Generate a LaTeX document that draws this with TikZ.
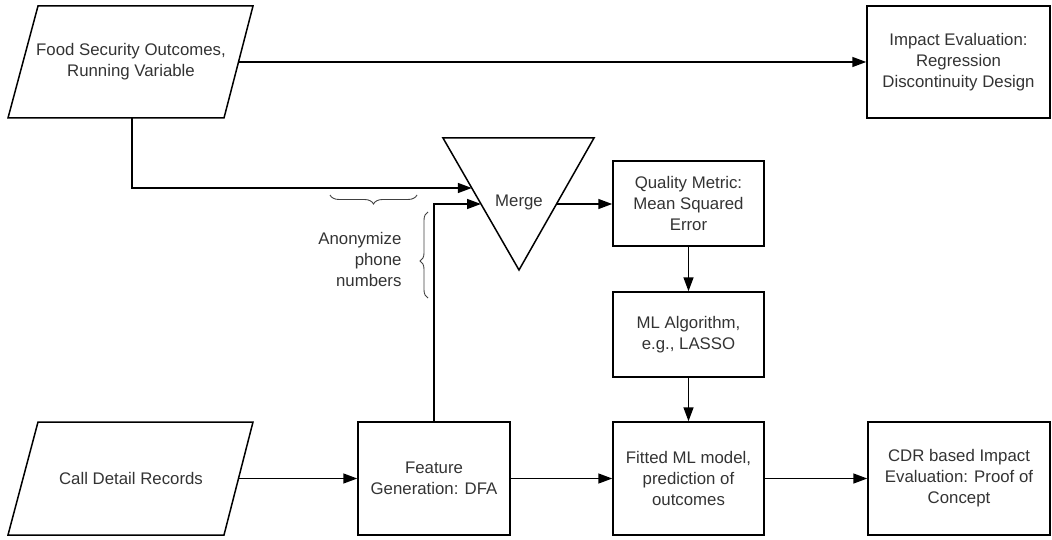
\documentclass[tikz,border=0pt]{standalone}
\usepackage{fontspec}
\setmainfont{Liberation Sans}
\usetikzlibrary{arrows.meta,decorations.pathreplacing}
\newcommand\dfont{\fontsize{16.8}{21}\selectfont}
\begin{document}
\begin{tikzpicture}[x=1pt,y=-1pt,
  line/.style={line width=1.5pt, draw=black},
  arr/.style={line, -{Triangle[length=14pt,width=10pt]}},
  box/.style={draw=black, line width=1.5pt, align=center, font=\dfont, text=black!80, inner sep=0pt},
  lbl/.style={align=center, font=\dfont, text=black!80},
  bracestyle/.style={draw=black!75, line width=0.9pt, decorate}
]
\useasboundingbox (0,0) rectangle (1052,540);

% parallelogram: food security outcomes
\draw[line] (38,6) -- (253,6) -- (224,118) -- (8,118) -- cycle;
\node[lbl] (fso) at (131,62) {Food Security Outcomes,\\Running Variable};
\coordinate (fsoR) at (238.5,62);
\coordinate (fsoB) at (132,118);

% parallelogram: call detail records
\draw[line] (38,422) -- (253,422) -- (224,535) -- (8,535) -- cycle;
\node[lbl] (calls) at (131,478.5) {Call Detail Records};
\coordinate (callsR) at (238.5,478.5);

% merge triangle
\draw[line] (443,138) -- (594,138) -- (519,270) -- cycle;
\node[lbl] (merge) at (519,202) {Merge};
\coordinate (mIn1) at (471.8,188);
\coordinate (mIn2) at (481,204);
\coordinate (mOut) at (556.5,204);

% boxes
\node[box, minimum width=183pt, minimum height=112pt] (impact) at (958.5,62)
  {Impact Evaluation:\\Regression\\Discontinuity Design};
\node[box, minimum width=151pt, minimum height=85pt] (quality) at (688.5,203.5)
  {Quality Metric:\\Mean Squared\\Error};
\node[box, minimum width=151pt, minimum height=85pt] (mlalg) at (688.5,334.5)
  {ML Algorithm,\\e.g., LASSO};
\node[box, minimum width=152pt, minimum height=113pt] (feature) at (434,478.5)
  {Feature\\Generation: DFA};
\node[box, minimum width=151pt, minimum height=113pt] (fitted) at (688.5,478.5)
  {Fitted ML model,\\prediction of\\outcomes};
\node[box, minimum width=182pt, minimum height=113pt] (cdrbox) at (959,478.5)
  {CDR based Impact\\Evaluation: Proof of\\Concept};

% connectors
\draw[arr] (fsoR) -- (impact.west);
\draw[arr] (fsoB) |- (mIn1);
\draw[arr] (feature.north) |- (mIn2);
\draw[arr] (mOut) -- (mOut -| quality.west);
\draw[arr] (quality) -- (mlalg);
\draw[arr] (mlalg) -- (fitted);
\draw[arr] (callsR) -- (feature.west);
\draw[arr] (feature) -- (fitted);
\draw[arr] (fitted) -- (cdrbox);

% braces and annotation
\draw[bracestyle, decoration={brace, amplitude=9pt}] (417,195) -- (330,195);
\draw[bracestyle, decoration={brace, amplitude=8pt, aspect=0.43}] (428,298) -- (428,212);
\node[lbl, align=right, anchor=east] (anon) at (405,259.5) {Anonymize\\phone\\numbers};
\end{tikzpicture}
\end{document}
